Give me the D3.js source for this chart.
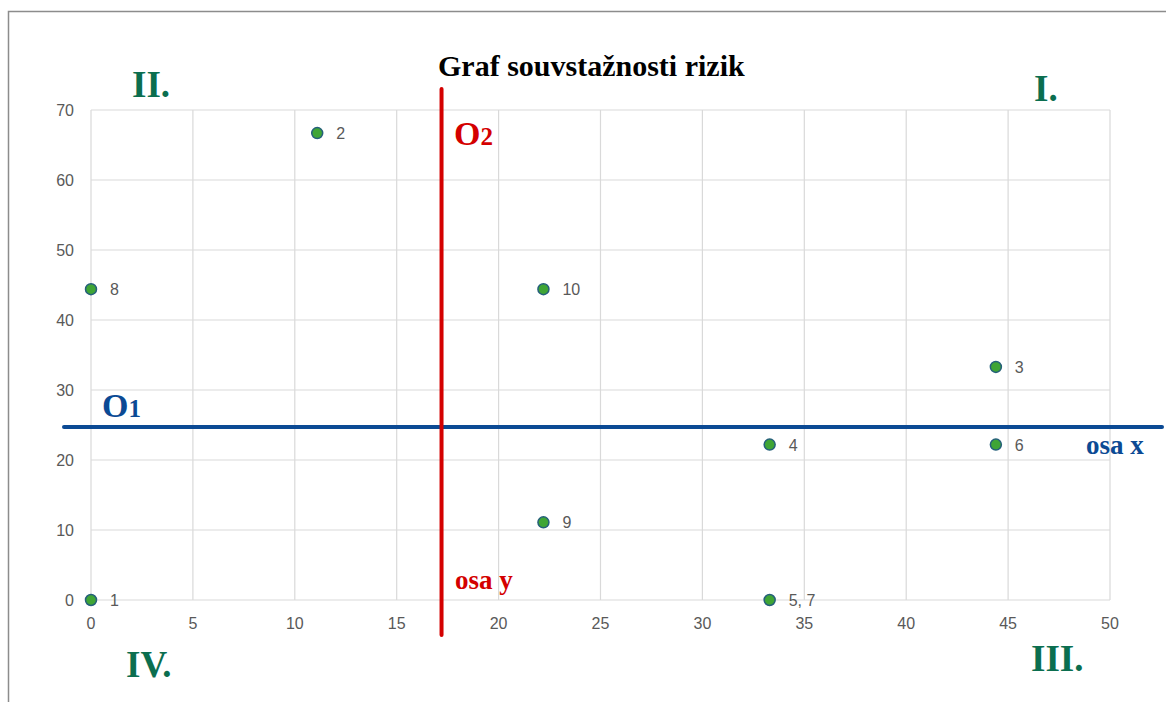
<!DOCTYPE html>
<html>
<head>
<meta charset="utf-8">
<script src="https://cdn.jsdelivr.net/npm/d3@7"></script>
<style>
  body { margin: 0; background: #fff; }
  svg { display: block; }
  .tick-label { font-family: "Liberation Sans", Arial, sans-serif; font-size: 16px; fill: #595959; }
  .serif { font-family: "Liberation Serif", "Times New Roman", serif; font-weight: bold; }
</style>
</head>
<body>
<div class="chart"></div>
<script>
// data
var pointX = [0, 11.1, 44.4, 33.3, 33.3, 44.4, 0, 22.2, 22.2];
var pointY = [0, 66.7, 33.3, 22.2, 0, 22.2, 44.4, 11.1, 44.4];
var pointLabels = ["1", "2", "3", "4", "5, 7", "6", "8", "9", "10"];
var xTicks = [0, 5, 10, 15, 20, 25, 30, 35, 40, 45, 50];
var yTicks = [0, 10, 20, 30, 40, 50, 60, 70];
var o1Value = 24.7;   // horizontal divider (osa x)
var o2Value = 17.2;   // vertical divider (osa y)

var svgW = 1166;
var svgH = 702;

var svg = d3.select(".chart")
    .append("svg")
    .attr("width", svgW)
    .attr("height", svgH);

// frame
svg.append("path")
    .attr("d", "M8.5,702 V11.5 H1166")
    .attr("fill", "none")
    .attr("stroke", "#8c8c8c")
    .attr("stroke-width", 1.5);

var xLS = d3.scaleLinear().domain([0, 50]).range([91, 1110]);
var yLS = d3.scaleLinear().domain([0, 70]).range([600, 110]);

var grid = svg.append("g");

grid.selectAll(".vgrid")
    .data(xTicks)
    .enter()
    .append("line")
    .attr("x1", function(d) { return xLS(d); })
    .attr("x2", function(d) { return xLS(d); })
    .attr("y1", yLS(0))
    .attr("y2", yLS(70))
    .attr("stroke", "#d9d9d9")
    .attr("stroke-width", 1.2);

grid.selectAll(".hgrid")
    .data(yTicks)
    .enter()
    .append("line")
    .attr("x1", xLS(0))
    .attr("x2", xLS(50))
    .attr("y1", function(d) { return yLS(d); })
    .attr("y2", function(d) { return yLS(d); })
    .attr("stroke", "#d9d9d9")
    .attr("stroke-width", 1.2);

// tick labels
svg.selectAll(".xlab")
    .data(xTicks)
    .enter()
    .append("text")
    .attr("class", "tick-label")
    .attr("x", function(d) { return xLS(d); })
    .attr("y", yLS(0) + 29)
    .attr("text-anchor", "middle")
    .text(function(d) { return d; });

svg.selectAll(".ylab")
    .data(yTicks)
    .enter()
    .append("text")
    .attr("class", "tick-label")
    .attr("x", 74)
    .attr("y", function(d) { return yLS(d) + 6; })
    .attr("text-anchor", "end")
    .text(function(d) { return d; });

// divider lines
svg.append("line")
    .attr("x1", 64)
    .attr("x2", 1162)
    .attr("y1", yLS(o1Value))
    .attr("y2", yLS(o1Value))
    .attr("stroke", "#0b4a94")
    .attr("stroke-width", 4)
    .attr("stroke-linecap", "round");

svg.append("line")
    .attr("x1", xLS(o2Value))
    .attr("x2", xLS(o2Value))
    .attr("y1", 89)
    .attr("y2", 635)
    .attr("stroke", "#d40000")
    .attr("stroke-width", 4)
    .attr("stroke-linecap", "round");

// points
var pts = pointX.map(function(x, i) {
    return { x: x, y: pointY[i], label: pointLabels[i] };
});

svg.selectAll("circle")
    .data(pts)
    .enter()
    .append("circle")
    .attr("cx", function(d) { return xLS(d.x); })
    .attr("cy", function(d) { return yLS(d.y); })
    .attr("r", 5.5)
    .attr("fill", "#3fa535")
    .attr("stroke", "#25607a")
    .attr("stroke-width", 1.5);

svg.selectAll(".abbr")
    .data(pts)
    .enter()
    .append("text")
    .attr("class", "tick-label")
    .attr("x", function(d) { return xLS(d.x) + 19; })
    .attr("y", function(d) { return yLS(d.y) + 6; })
    .text(function(d) { return d.label; });

// title
svg.append("text")
    .attr("class", "serif")
    .attr("x", 438)
    .attr("y", 76)
    .style("font-size", "30px")
    .attr("fill", "#000")
    .text("Graf souvstažnosti rizik");

// quadrant labels
var green = "#0b6e4f";
function quad(txt, x, y) {
    svg.append("text")
        .attr("class", "serif")
        .attr("x", x)
        .attr("y", y)
        .style("font-size", "37px")
        .attr("fill", green)
        .text(txt);
}
quad("II.", 132, 97);
quad("I.", 1034, 101);
quad("IV.", 126, 677);
quad("III.", 1031, 671);

// O1 / O2
var o1 = svg.append("text")
    .attr("class", "serif")
    .attr("x", 102)
    .attr("y", 417)
    .style("font-size", "34px")
    .attr("fill", "#0b4a94");
o1.append("tspan").text("O");
o1.append("tspan").style("font-size", "25px").text("1");

var o2 = svg.append("text")
    .attr("class", "serif")
    .attr("x", 454)
    .attr("y", 145)
    .style("font-size", "34px")
    .attr("fill", "#d40000");
o2.append("tspan").text("O");
o2.append("tspan").style("font-size", "25px").text("2");

svg.append("text")
    .attr("class", "serif")
    .attr("x", 1086)
    .attr("y", 454)
    .style("font-size", "27px")
    .attr("fill", "#0b4a94")
    .text("osa x");

svg.append("text")
    .attr("class", "serif")
    .attr("x", 455)
    .attr("y", 589)
    .style("font-size", "27px")
    .attr("fill", "#d40000")
    .text("osa y");
</script>
</body>
</html>
